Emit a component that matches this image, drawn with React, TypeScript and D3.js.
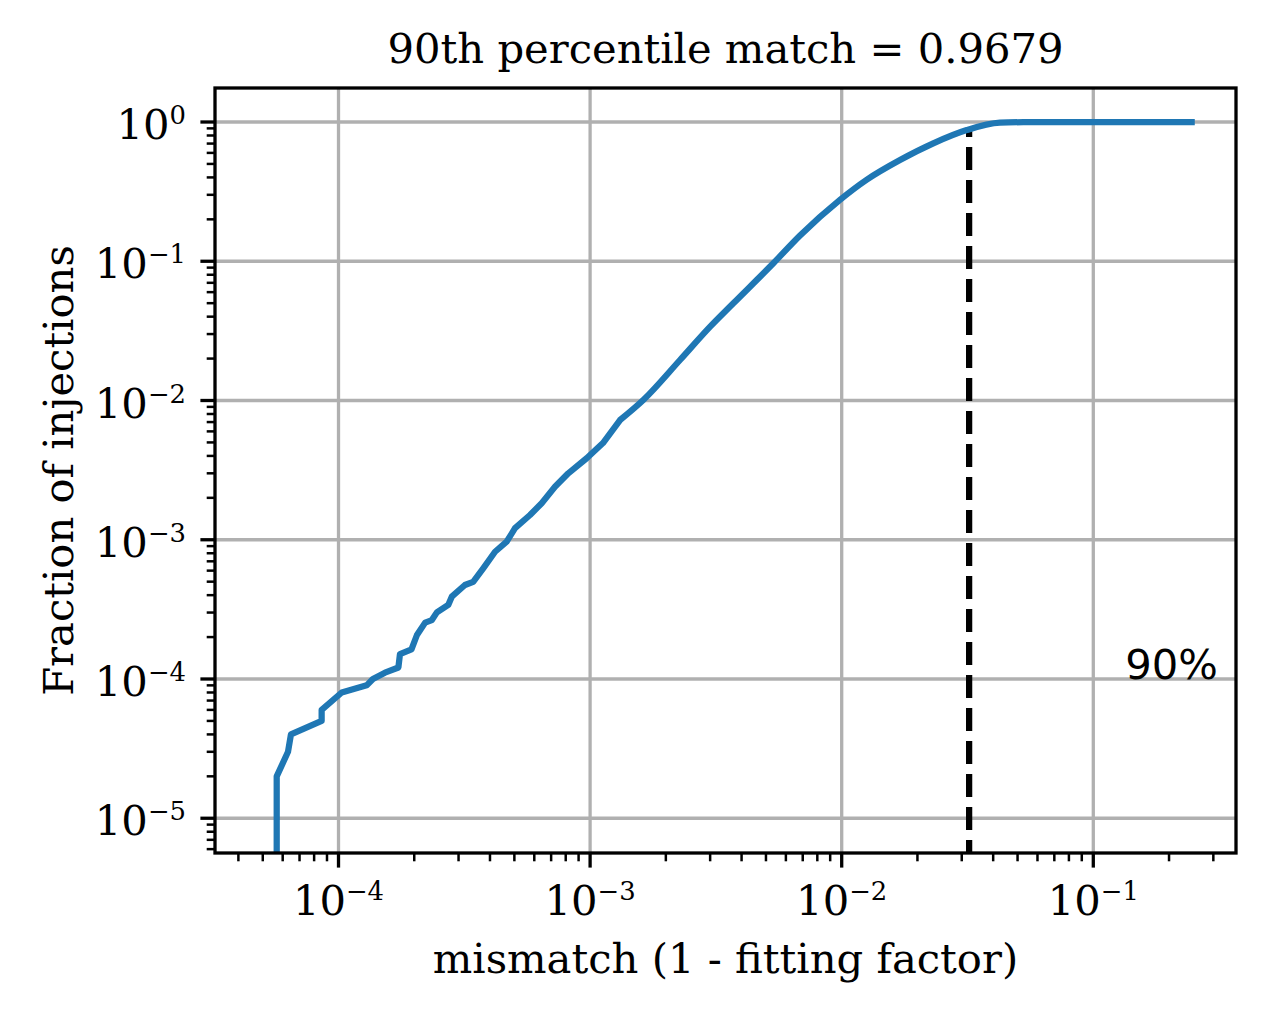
import { useEffect, useRef } from 'react';
import * as d3 from 'd3';

// cumulative fraction of injections vs mismatch
const mismatch = [
    5.68e-5, 5.68e-5, 6.3e-5, 6.47e-5, 8.57e-5, 8.57e-5, 1.03e-4, 1.294e-4, 1.37e-4, 1.53e-4,
    1.73e-4, 1.755e-4, 1.95e-4, 2.05e-4, 2.21e-4, 2.35e-4, 2.46e-4, 2.73e-4, 2.82e-4, 3.18e-4,
    3.43e-4, 3.76e-4, 4.19e-4, 4.66e-4, 5.03e-4, 5.77e-4, 6.42e-4, 7.25e-4, 8.19e-4, 9.69e-4,
    1.125e-3, 1.315e-3, 1.627e-3, 2.277e-3, 3.0e-3, 3.71e-3, 5.35e-3, 6.83e-3, 9.84e-3, 1.257e-2,
    1.705e-2, 2.312e-2, 3.14e-2, 4.256e-2, 5.27e-2, 7.35e-2, 0.246,
];
const fraction = [
    1e-7, 2e-5, 3e-5, 4e-5, 5e-5, 6e-5, 8e-5, 9e-5, 1e-4, 1.11e-4,
    1.21e-4, 1.51e-4, 1.63e-4, 2.07e-4, 2.54e-4, 2.65e-4, 3.01e-4, 3.4e-4, 3.9e-4, 4.73e-4,
    4.99e-4, 6.24e-4, 8.2e-4, 9.68e-4, 1.21e-3, 1.505e-3, 1.83e-3, 2.4e-3, 3.0e-3, 3.85e-3,
    4.95e-3, 7.24e-3, 1.008e-2, 1.953e-2, 3.39e-2, 4.99e-2, 9.67e-2, 0.153, 0.276, 0.385,
    0.5334, 0.7026, 0.875, 0.9886, 0.997, 0.9995, 1.0,
];
// from this index on the empirical curve is smooth
const smoothFrom = 31;

const percentileMismatch = 0.0321;
const percentileFraction = 0.88;
const titleText = '90th percentile match = 0.9679';
const xLabel = 'mismatch (1 - fitting factor)';
const yLabel = 'Fraction of injections';
const xMajorExp = [-4, -3, -2, -1];
const yMajorExp = [-5, -4, -3, -2, -1, 0];
const noteText = '90%';
const noteX = 0.134;
const noteY = 1e-4;

export default function App() {
    const ref = useRef<SVGSVGElement>(null);

    useEffect(() => {
        if (!ref.current) return;
        const svg = d3.select(ref.current);
        svg.selectAll('*').remove();

        const W = 1265, H = 1013;
        const left = 215, right = 1236, top = 88, bottom = 853;
        const fs = 41.7;
        const serif = '"DejaVu Serif", serif';

        svg.attr('width', W).attr('height', H);
        svg.append('rect').attr('width', W).attr('height', H).attr('fill', '#fff');

        const x = d3.scaleLog()
            .domain([Math.pow(10, -4.4909), Math.pow(10, -0.4328)])
            .range([left, right]);
        const y = d3.scaleLog()
            .domain([Math.pow(10, -5.2496), Math.pow(10, 0.2442)])
            .range([bottom, top]);

        const [x0, x1] = x.domain();
        const [y0, y1] = y.domain();
        const minorOf = (lo: number, hi: number) => {
            const out: number[] = [];
            for (let k = -7; k <= 1; k++) {
                for (let m = 2; m <= 9; m++) {
                    const v = m * Math.pow(10, k);
                    if (v >= lo && v <= hi) out.push(v);
                }
            }
            return out;
        };

        svg.append('defs').append('clipPath').attr('id', 'plot-clip')
            .append('rect')
            .attr('x', left).attr('y', top)
            .attr('width', right - left).attr('height', bottom - top);

        // grid
        const grid = svg.append('g').attr('stroke', '#b0b0b0').attr('stroke-width', 3.3);
        xMajorExp.forEach(e => {
            grid.append('line')
                .attr('x1', x(Math.pow(10, e))).attr('x2', x(Math.pow(10, e)))
                .attr('y1', top).attr('y2', bottom);
        });
        yMajorExp.forEach(e => {
            grid.append('line')
                .attr('x1', left).attr('x2', right)
                .attr('y1', y(Math.pow(10, e))).attr('y2', y(Math.pow(10, e)));
        });

        const plot = svg.append('g').attr('clip-path', 'url(#plot-clip)');

        // dashed percentile marker
        plot.append('line')
            .attr('x1', x(percentileMismatch)).attr('x2', x(percentileMismatch))
            .attr('y1', bottom + 10).attr('y2', y(percentileFraction))
            .attr('stroke', '#000')
            .attr('stroke-width', 6.25)
            .attr('stroke-dasharray', '23 10');

        const pts = mismatch.map((m, i) => [m, fraction[i]] as [number, number]);
        const stepLine = d3.line<[number, number]>()
            .x(d => x(d[0]))
            .y(d => y(d[1]));
        const smoothLine = d3.line<[number, number]>()
            .x(d => x(d[0]))
            .y(d => y(d[1]))
            .curve(d3.curveMonotoneX);
        const lowPart = stepLine(pts.slice(0, smoothFrom + 1))!;
        const highPart = smoothLine(pts.slice(smoothFrom))!;
        plot.append('path')
            .attr('d', lowPart + 'L' + highPart.slice(1))
            .attr('fill', 'none')
            .attr('stroke', '#1f77b4')
            .attr('stroke-width', 6.25)
            .attr('stroke-linejoin', 'round')
            .attr('stroke-linecap', 'square');

        // note
        svg.append('text')
            .attr('x', x(noteX)).attr('y', y(noteY))
            .attr('font-family', '"DejaVu Sans", sans-serif')
            .attr('font-size', fs)
            .text(noteText);

        // spines
        svg.append('rect')
            .attr('x', left).attr('y', top)
            .attr('width', right - left).attr('height', bottom - top)
            .attr('fill', 'none').attr('stroke', '#000').attr('stroke-width', 3.3);

        // ticks
        const ax = svg.append('g').attr('stroke', '#000');
        xMajorExp.forEach(e => {
            ax.append('line')
                .attr('x1', x(Math.pow(10, e))).attr('x2', x(Math.pow(10, e)))
                .attr('y1', bottom).attr('y2', bottom + 14.6)
                .attr('stroke-width', 3.3);
        });
        minorOf(x0, x1).forEach(v => {
            ax.append('line')
                .attr('x1', x(v)).attr('x2', x(v))
                .attr('y1', bottom).attr('y2', bottom + 8.3)
                .attr('stroke-width', 2.5);
        });
        yMajorExp.forEach(e => {
            ax.append('line')
                .attr('x1', left - 14.6).attr('x2', left)
                .attr('y1', y(Math.pow(10, e))).attr('y2', y(Math.pow(10, e)))
                .attr('stroke-width', 3.3);
        });
        minorOf(y0, y1).forEach(v => {
            ax.append('line')
                .attr('x1', left - 8.3).attr('x2', left)
                .attr('y1', y(v)).attr('y2', y(v))
                .attr('stroke-width', 2.5);
        });

        const supLabel = (g: d3.Selection<SVGTextElement, unknown, null, undefined>, e: number) => {
            g.append('tspan').text('10');
            g.append('tspan')
                .attr('font-size', fs * 0.62)
                .attr('dy', -15)
                .text(e < 0 ? `\u2212${-e}` : `${e}`);
        };

        xMajorExp.forEach(e => {
            const t = svg.append('text')
                .attr('x', x(Math.pow(10, e)))
                .attr('y', 915)
                .attr('text-anchor', 'middle')
                .attr('font-family', serif)
                .attr('font-size', fs);
            supLabel(t as any, e);
        });
        yMajorExp.forEach(e => {
            const t = svg.append('text')
                .attr('x', 186)
                .attr('y', y(Math.pow(10, e)) + 17)
                .attr('text-anchor', 'end')
                .attr('font-family', serif)
                .attr('font-size', fs);
            supLabel(t as any, e);
        });

        // title and axis labels
        svg.append('text')
            .attr('x', (left + right) / 2).attr('y', 63)
            .attr('text-anchor', 'middle')
            .attr('font-family', serif).attr('font-size', fs)
            .text(titleText);
        svg.append('text')
            .attr('x', (left + right) / 2).attr('y', 973)
            .attr('text-anchor', 'middle')
            .attr('font-family', serif).attr('font-size', fs)
            .text(xLabel);
        svg.append('text')
            .attr('transform', `translate(73,${(top + bottom) / 2}) rotate(-90)`)
            .attr('text-anchor', 'middle')
            .attr('font-family', serif).attr('font-size', fs)
            .text(yLabel);
    }, []);

    return (
        <div style={{ position: 'absolute', left: 0, top: 0 }}>
            <svg ref={ref} style={{ display: 'block' }} />
        </div>
    );
}
